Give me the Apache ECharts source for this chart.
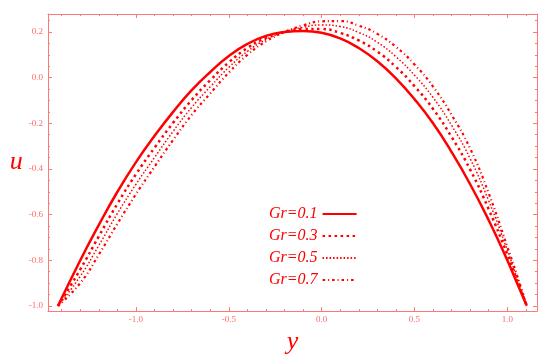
<!DOCTYPE html>
<html>
<head>
<meta charset="utf-8">
<script src="https://cdn.jsdelivr.net/npm/echarts@6/dist/echarts.min.js"></script>
<style>
  html, body { margin: 0; padding: 0; background: #fff; }
  #chart { width: 550px; height: 360px; }
</style>
</head>
<body>
<div id="chart"></div>
<script>
  // horizontal coordinate (labelled y in the figure)
  const yPos = [-1.42, -1.3, -1.2, -1.1, -1.0, -0.9, -0.8, -0.7, -0.6, -0.5, -0.4, -0.3, -0.2, -0.1,
    0.0, 0.1, 0.2, 0.3, 0.4, 0.5, 0.6, 0.7, 0.8, 0.9, 1.0, 1.05, 1.105];

  // velocity u for each Gr
  const uGr01 = [-1.0, -0.80, -0.645, -0.50, -0.37, -0.255, -0.15, -0.055, 0.025, 0.095, 0.148, 0.183, 0.2, 0.205,
    0.197, 0.172, 0.13, 0.072, -0.003, -0.094, -0.2, -0.326, -0.467, -0.625, -0.80, -0.895, -1.0];
  const uGr03 = [-1.0, -0.84, -0.695, -0.552, -0.423, -0.307, -0.198, -0.098, -0.011, 0.067, 0.13, 0.174, 0.2, 0.213,
    0.213, 0.196, 0.163, 0.114, 0.047, -0.037, -0.137, -0.26, -0.403, -0.577, -0.775, -0.885, -1.0];
  const uGr05 = [-1.0, -0.87, -0.735, -0.595, -0.467, -0.35, -0.235, -0.13, -0.04, 0.045, 0.115, 0.167, 0.2, 0.221,
    0.231, 0.224, 0.198, 0.155, 0.092, 0.011, -0.087, -0.209, -0.355, -0.54, -0.755, -0.872, -1.0];
  const uGr07 = [-1.0, -0.90, -0.775, -0.64, -0.51, -0.39, -0.273, -0.163, -0.069, 0.022, 0.1, 0.159, 0.2, 0.229,
    0.247, 0.248, 0.228, 0.192, 0.135, 0.058, -0.039, -0.163, -0.311, -0.507, -0.74, -0.86, -1.0];

  const seriesNames = ['Gr=0.1', 'Gr=0.3', 'Gr=0.5', 'Gr=0.7'];

  const xMajor = [-1.0, -0.5, 0.0, 0.5, 1.0];
  const xMinor = [-1.4, -1.3, -1.2, -1.1, -0.9, -0.8, -0.7, -0.6, -0.4, -0.3, -0.2, -0.1,
    0.1, 0.2, 0.3, 0.4, 0.6, 0.7, 0.8, 0.9, 1.1];
  const uMajor = [-1.0, -0.8, -0.6, -0.4, -0.2, 0.0, 0.2];
  const uMinor = [-0.95, -0.9, -0.85, -0.75, -0.7, -0.65, -0.55, -0.5, -0.45, -0.35, -0.3, -0.25,
    -0.15, -0.1, -0.05, 0.05, 0.1, 0.15, 0.25];

  const RED = '#ff0000';
  const FRAME = '#ff7878';
  const LABEL = '#ff6a6a';

  const xRange = { min: -1.474, max: 1.16 };
  const uRange = { min: -1.023, max: 0.279 };

  const pairs = (vals) => yPos.map((x, i) => [x, vals[i]]);

  const frameAxis = (extra, ticks, len, withLine) => Object.assign({
    type: 'value',
    splitLine: { show: false },
    axisLine: { show: withLine, onZero: false, lineStyle: { color: FRAME, width: 1 } },
    axisTick: { show: true, inside: true, length: len, customValues: ticks, lineStyle: { color: FRAME, width: 1 } },
    axisLabel: { show: false },
  }, extra);

  const curve = (i, vals, width, type) => ({
    name: seriesNames[i],
    type: 'line',
    data: pairs(vals),
    smooth: true,
    symbol: 'none',
    lineStyle: { color: RED, width: width, type: type },
    itemStyle: { color: RED },
  });

  const chart = echarts.init(document.getElementById('chart'));

  chart.setOption({
    animation: false,
    backgroundColor: '#fff',
    grid: { left: 48, right: 13, top: 14, bottom: 44 },
    xAxis: [
      frameAxis({
        position: 'bottom', ...xRange,
        name: 'y', nameLocation: 'middle', nameGap: 6,
        nameTextStyle: { color: RED, fontFamily: 'Liberation Serif', fontStyle: 'italic', fontSize: 26 },
        axisLabel: {
          show: true, customValues: xMajor, margin: 4, color: LABEL,
          fontFamily: 'Liberation Serif', fontSize: 9,
          formatter: (v) => v.toFixed(1),
        },
      }, xMajor, 4, true),
      frameAxis({ position: 'bottom', ...xRange }, xMinor, 2, false),
      frameAxis({ position: 'top', ...xRange }, xMajor, 4, true),
      frameAxis({ position: 'top', ...xRange }, xMinor, 2, false),
    ],
    yAxis: [
      frameAxis({
        position: 'left', ...uRange,
        name: 'u', nameLocation: 'middle', nameGap: 25, nameRotate: 0,
        nameTextStyle: { color: RED, fontFamily: 'Liberation Serif', fontStyle: 'italic', fontSize: 26 },
        axisLabel: {
          show: true, customValues: uMajor, margin: 5, color: LABEL,
          fontFamily: 'Liberation Serif', fontSize: 9,
          formatter: (v) => v.toFixed(1),
        },
      }, uMajor, 4, true),
      frameAxis({ position: 'left', ...uRange }, uMinor, 2, false),
      frameAxis({ position: 'right', ...uRange }, uMajor, 4, true),
      frameAxis({ position: 'right', ...uRange }, uMinor, 2, false),
    ],
    legend: {
      orient: 'vertical',
      left: 264,
      top: 201,
      align: 'right',
      itemWidth: 34,
      itemHeight: 12,
      itemGap: 6,
      data: seriesNames,
      itemStyle: { opacity: 0 },
      textStyle: { color: RED, fontFamily: 'Liberation Serif', fontStyle: 'italic', fontSize: 16 },
    },
    series: [
      curve(0, uGr01, 2.5, 'solid'),
      curve(1, uGr03, 2.5, [2.5, 3.5]),
      curve(2, uGr05, 1.5, [1.5, 2]),
      curve(3, uGr07, 2.2, [2.5, 3, 1, 3]),
    ],
  });
</script>
</body>
</html>
